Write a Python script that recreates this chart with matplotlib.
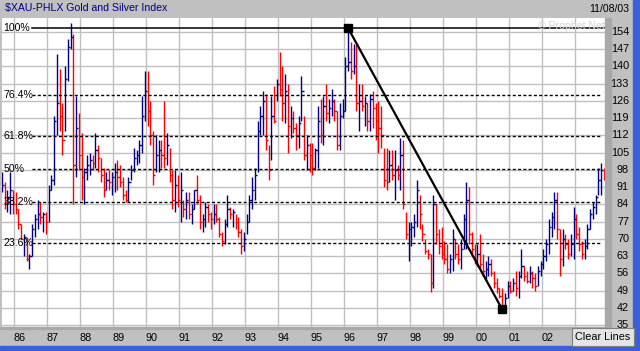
import numpy as np
import pandas as pd
import matplotlib
matplotlib.use("Agg")
import matplotlib.pyplot as plt
from matplotlib.patches import Rectangle

plt.rcParams["font.family"] = ["Liberation Sans", "DejaVu Sans"]

NAVY = "#000080"; RED = "#FF0000"; GRID = "#C0C0C0"; PANEL = "#C0C0C0"
W, H = 640, 351

# monthly bars, Aug 1985 .. Nov 2003
months = pd.date_range("1985-08-01", "2003-11-01", freq="MS")
highs = [
    97, 93, 90, 97, 90,
    89, 82, 76, 72, 71, 64, 76, 80, 86, 85, 81, 81,
    92, 96, 120, 145, 139, 125, 140, 151, 157.5, 153, 128, 121,
    113, 99, 104, 105, 104, 113, 108, 103, 99, 97, 98, 97,
    101, 102, 100, 95, 90, 95, 100, 107, 106, 110, 128, 138,
    138, 126, 114, 112, 110, 110, 126, 113, 107, 98, 98, 96,
    97, 86, 89, 89, 84, 90, 96, 88, 80, 85, 84, 81,
    84, 84, 79, 73, 78, 88, 83, 82, 80, 79, 74, 73,
    80, 88, 95, 99, 118, 124, 130, 129, 108, 128, 132, 135,
    146, 140, 137, 133, 124, 122, 117, 120, 136, 120, 112, 109,
    109, 107, 124, 127, 128, 133, 127, 131, 127, 122, 125, 127,
    144, 155.5, 150, 149, 149, 133, 133, 128, 125, 129, 130, 125,
    126, 124, 107, 107, 106, 106, 106, 100, 111, 110, 81, 77,
    77, 80, 94, 88, 76, 70, 66, 64, 88, 84, 74, 75,
    69, 68, 64, 74, 70, 68, 70, 80, 93, 91, 73, 68,
    68, 72, 64, 61, 63, 62, 57, 54, 50, 50, 48, 53,
    53, 54, 57, 57, 66, 59, 57, 59, 57, 56, 59, 61,
    66, 70, 78, 81, 89, 89, 74, 74, 72, 70, 72, 83,
    80, 75, 69, 70, 76, 82, 85, 88, 99, 101, 99,
]
lows = [
    89, 82, 81, 80, 80,
    80, 74, 70, 63, 61, 58, 63, 71, 74, 76, 73, 72,
    77, 90, 92, 112, 114, 104, 114, 134, 147, 84, 95, 98,
    86, 84, 94, 96, 98, 99, 97, 93, 87, 90, 90, 88,
    89, 90, 91, 86, 85, 85, 94, 97, 100, 101, 105, 118,
    116, 108, 92, 97, 97, 99, 99, 100, 93, 82, 81, 83,
    77, 79, 78, 78, 76, 82, 84, 74, 73, 75, 77, 74,
    76, 77, 71, 67, 68, 75, 78, 75, 74, 71, 64, 65,
    72, 77, 82, 86, 97, 112, 112, 106, 94, 102, 117, 126,
    128, 118, 117, 105, 111, 113, 106, 107, 118, 102, 98, 97,
    96, 98, 99, 109, 108, 118, 117, 120, 118, 106, 106, 119,
    122, 138, 135, 137, 122, 114, 122, 116, 114, 114, 115, 110,
    105, 107, 91, 90, 93, 94, 86, 94, 90, 82, 70, 61,
    67, 71, 75, 74, 69, 64, 62, 48.5, 50, 68, 64, 62,
    60, 56, 56, 57, 62, 60, 58, 66, 66, 68, 63, 60,
    59, 58, 55, 53, 55, 55, 50, 48, 46, 41.5, 43, 46,
    48, 49, 47, 46, 54, 53, 52, 52, 50, 49, 51, 55,
    58, 61, 64, 71, 74, 70, 55, 59, 66, 62, 63, 62,
    70, 65, 62, 62, 66, 74, 78, 80, 88, 88, 94,
]
closes = [
    92, 85, 87, 90, 84,
    82, 76, 70, 71, 62, 63, 74, 78, 80, 79, 80, 77,
    90, 94, 118, 125, 120, 110, 135, 148, 152, 100, 115, 104,
    95, 97, 100, 102, 101, 106, 103, 96, 90, 94, 93, 95,
    97, 95, 93, 88, 86, 93, 98, 103, 104, 108, 120, 130,
    122, 112, 96, 104, 106, 104, 103, 108, 96, 86, 92, 86,
    90, 82, 86, 80, 82, 90, 86, 77, 78, 83, 80, 78,
    80, 78, 72, 69, 76, 82, 80, 81, 77, 73, 67, 70,
    77, 86, 90, 96, 114, 120, 126, 110, 98, 120, 118, 133,
    131, 125, 130, 116, 119, 115, 112, 117, 130, 104, 108, 104,
    99, 106, 118, 112, 124, 121, 123, 126, 122, 108, 120, 122,
    140, 142, 138, 140, 125, 126, 124, 125, 118, 127, 123, 118,
    115, 112, 94, 93, 100, 96, 98, 96, 104, 84, 72, 74,
    75, 77, 90, 80, 72, 65, 64, 52, 84, 72, 67, 64,
    62, 58, 62, 70, 64, 62, 66, 78, 86, 72, 66, 62,
    64, 60, 57, 58, 60, 56, 52, 50, 47, 43, 46, 51,
    49, 52, 50, 55, 59, 55, 53, 56, 54, 51, 57, 60,
    63, 68, 75, 79, 86, 74, 62, 70, 68, 64, 68, 78,
    72, 68, 64, 67, 74, 80, 83, 87, 94, 98, 96,
]

# retracement is drawn on the 1996 high -> 2000 low swing
swing_from = "1995-01-01"
fib_levels = [1.0, 0.764, 0.618, 0.5, 0.382, 0.236]
fib_labels = ["100%", "76.4%", "61.8%", "50%", "38.2%", "23.6%"]
y_ticks = list(range(35, 155, 7))
year_ticks = list(range(1986, 2004))
year_labels = ["86", "87", "88", "89", "90", "91", "92", "93", "94",
               "95", "96", "97", "98", "99", "00", "01", "02"]

t = months.year + (months.month - 0.5) / 12.0
hi_a = np.array(highs); lo_a = np.array(lows); cl_a = np.array(closes)
prev = np.concatenate([[cl_a[0]], cl_a[:-1]])
cols = np.where(cl_a >= prev, NAVY, RED)

fig = plt.figure(figsize=(W / 100, H / 100), dpi=100, facecolor=PANEL)

def fx(x): return x / W
def fy(y): return 1 - y / H

# plot area 2..605 px wide, 18..327 px tall
ax = fig.add_axes([fx(2), fy(327), fx(605) - fx(2), fy(18) - fy(327)])
ax.set_facecolor("white")
ax.set_xlim(1985.627, 2003.911)
ax.set_ylim(34.28, 159.68)
ax.set_xticks(year_ticks)
ax.set_yticks(y_ticks)
ax.grid(True, color=GRID, lw=1.0)
ax.set_axisbelow(True)
ax.tick_params(length=0, labelbottom=False, labelleft=False)
for s in ax.spines.values():
    s.set_visible(False)

# bars
ax.vlines(t, lo_a, hi_a, colors=cols, lw=1.0)
ax.hlines(cl_a, t, t + 0.07, colors=cols, lw=1.0)

# fibonacci retracement from the swing high to the following low
start = int(np.searchsorted(months, pd.Timestamp(swing_from)))
i_hi = start + int(np.argmax(hi_a[start:]))
i_lo = i_hi + int(np.argmin(lo_a[i_hi:]))
top, bot = hi_a[i_hi], lo_a[i_lo]
for f, lab in zip(fib_levels, fib_labels):
    lev = bot + f * (top - bot)
    if f == 1.0:
        ax.axhline(lev, xmin=0.05, xmax=1.0, color="black", lw=1.1)
    else:
        ax.axhline(lev, xmin=0.05, xmax=0.992, color="black", lw=1.0, ls=(0, (2.2, 1.6)))
    ax.text(0.002, lev, lab, transform=ax.get_yaxis_transform(), ha="left", va="center",
            fontsize=7.6, color="black")

ax.plot([t[i_hi], t[i_lo]], [top, bot], color="black", lw=1.6, solid_capstyle="butt")
ax.plot([t[i_hi], t[i_lo]], [top, bot], ls="none", marker="s", ms=5.2, color="black")

# right price scale
for v in y_ticks:
    ax.text(1.0 + 24 / 603, v, str(v), transform=ax.get_yaxis_transform(), ha="right",
            va="center", fontsize=7.8, color="black", clip_on=False)

# year labels
for yr, lab in zip(year_ticks, year_labels):
    ax.text(yr + 5.5 / 32.98, -(338 - 327) / 309, lab, transform=ax.get_xaxis_transform(),
            ha="center", va="center", fontsize=7.8, color="black", clip_on=False)

# header texts
fig.text(fx(5), fy(8.5), "$XAU-PHLX Gold and Silver Index", ha="left", va="center",
         fontsize=7.6, color=NAVY)
fig.text(fx(629), fy(8.5), "11/08/03", ha="right", va="center", fontsize=7.6, color="black")
fig.text(fx(605), fy(26), "© Prophet Net", ha="right", va="center", fontsize=7.6, color="#D4D4D4")

# frame bits
fig.patches.append(Rectangle((fx(605), fy(329)), fx(611) - fx(605), fy(18) - fy(329),
                             transform=fig.transFigure, color="#A8A8A8", zorder=0))
fig.patches.append(Rectangle((0, fy(329)), fx(611), fy(327) - fy(329),
                             transform=fig.transFigure, color="#A8A8A8", zorder=0))
fig.patches.append(Rectangle((0, 0), 1, fy(346), transform=fig.transFigure,
                             color="#3A5FD8", zorder=0))
fig.patches.append(Rectangle((fx(633), 0), 1 - fx(633), 1, transform=fig.transFigure,
                             color="#3A5FD8", zorder=0))

# "Clear Lines" button
fig.patches.append(Rectangle((fx(572), fy(346)), fx(634) - fx(572), fy(328) - fy(346),
                             transform=fig.transFigure, facecolor="#E4E4E4",
                             edgecolor="#808080", lw=0.8, zorder=3))
fig.text(fx(603), fy(337.5), "Clear Lines", ha="center", va="center", fontsize=7.8,
         color="black", zorder=4)

fig.savefig("out.png", dpi=100, facecolor=fig.get_facecolor())
